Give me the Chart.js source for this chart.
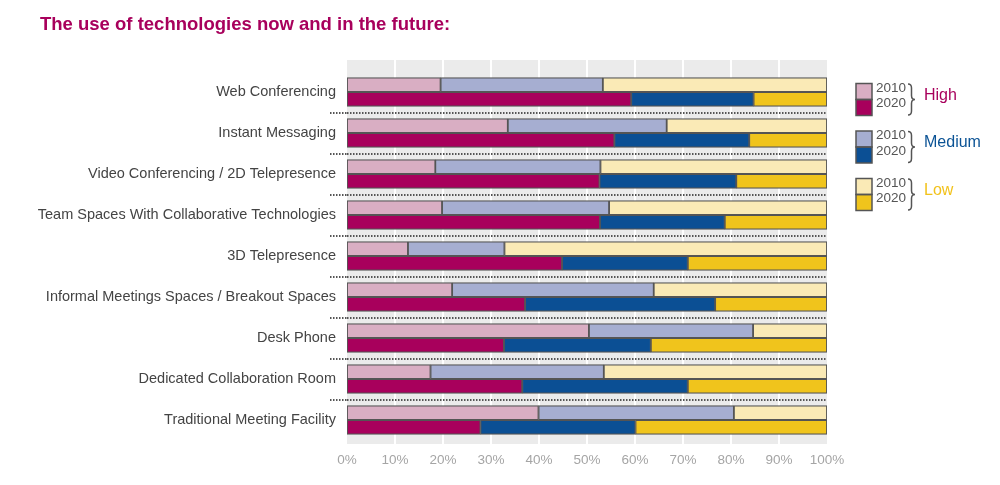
<!DOCTYPE html>
<html>
<head>
<meta charset="utf-8">
<script src="https://cdn.jsdelivr.net/npm/chart.js@4/dist/chart.umd.min.js"></script>
<style>
  body { margin: 0; background: #fff; }
  #wrap { width: 1000px; height: 485px; position: relative; }
  #title {
    position: absolute; left: 40px; top: 13px;
    font: bold 18.5px 'Liberation Sans', Arial, sans-serif;
    line-height: 22px; color: #a8005c; white-space: nowrap;
  }
</style>
</head>
<body>
<div id="wrap">
  <div id="title">The use of technologies now and in the future:</div>
  <canvas id="myChart"></canvas>
</div>
<script>
// data (percent of respondents)
const categories = [
  'Web Conferencing',
  'Instant Messaging',
  'Video Conferencing / 2D Telepresence',
  'Team Spaces With Collaborative Technologies',
  '3D Telepresence',
  'Informal Meetings Spaces / Breakout Spaces',
  'Desk Phone',
  'Dedicated Collaboration Room',
  'Traditional Meeting Facility'
]
const levels = ['High', 'Medium', 'Low']
const years = ['2010', '2020']

const high2010 = [19.5, 33.5, 18.4, 19.8, 12.7, 21.9, 50.4, 17.4, 39.9]
const medium2010 = [33.8, 33.1, 34.4, 34.8, 20.1, 42.0, 34.2, 36.1, 40.7]
const low2010 = [46.7, 33.4, 47.2, 45.4, 67.2, 36.1, 15.4, 46.5, 19.4]

const high2020 = [59.2, 55.7, 52.6, 52.7, 44.8, 37.1, 32.7, 36.5, 27.8]
const medium2020 = [25.5, 28.1, 28.5, 26.0, 26.2, 39.6, 30.6, 34.5, 32.3]
const low2020 = [15.3, 16.2, 18.9, 21.3, 29.0, 23.3, 36.7, 29.0, 39.9]

const xTicks = [0, 10, 20, 30, 40, 50, 60, 70, 80, 90, 100]

// styles
const lightColors = ['#d9aec3', '#a6aed1', '#faeab6']
const darkColors = ['#a8005c', '#0b4f94', '#f0c41c']
const labelColors = ['#a8005c', '#0b5395', '#f2c21b']
const edge = '#555'

Chart.defaults.font.family = "'Liberation Sans', Arial, sans-serif"

const values = {
  '2010': [high2010, medium2010, low2010],
  '2020': [high2020, medium2020, low2020]
}

const datasets = []
years.forEach((yr, yi) => {
  levels.forEach((lv, li) => {
    datasets.push({
      label: lv + ' ' + yr,
      stack: yr,
      data: values[yr][li],
      backgroundColor: yi === 0 ? lightColors[li] : darkColors[li],
      borderColor: edge,
      borderWidth: 1.25,
      borderSkipped: false,
      barThickness: 14.5
    })
  })
})

// grey panel with white vertical lines, a bit taller than the plot area
const backdrop = {
  id: 'backdrop',
  beforeDraw(chart) {
    const { ctx, chartArea: a, scales: { x } } = chart
    const top = a.top - 11.5
    const bottom = a.bottom + 3.5
    ctx.save()
    ctx.fillStyle = '#ebebeb'
    ctx.fillRect(a.left, top, a.right - a.left, bottom - top)
    ctx.strokeStyle = '#fff'
    ctx.lineWidth = 2
    xTicks.slice(1, -1).forEach(v => {
      const px = Math.round(x.getPixelForValue(v))
      ctx.beginPath()
      ctx.moveTo(px, top)
      ctx.lineTo(px, bottom)
      ctx.stroke()
    })
    ctx.restore()
  }
}

// legend on the right: two swatches, a brace and the level name
const sideLegend = {
  id: 'sideLegend',
  afterDraw(chart) {
    const ctx = chart.ctx
    ctx.save()
    levels.forEach((lv, i) => {
      const x0 = 856
      const y0 = 83.5 + i * 47.5
      ctx.fillStyle = lightColors[i]
      ctx.fillRect(x0, y0, 16, 16)
      ctx.fillStyle = darkColors[i]
      ctx.fillRect(x0, y0 + 16, 16, 16)
      ctx.strokeStyle = edge
      ctx.lineWidth = 1.5
      ctx.strokeRect(x0, y0, 16, 16)
      ctx.strokeRect(x0, y0 + 16, 16, 16)

      ctx.fillStyle = '#555'
      ctx.font = "13.5px 'Liberation Sans', Arial, sans-serif"
      ctx.textBaseline = 'middle'
      ctx.textAlign = 'left'
      ctx.fillText(years[0], 876, y0 + 4.5)
      ctx.fillText(years[1], 876, y0 + 20)

      // brace
      const bx = 908, t = y0 + 0.5, b = y0 + 31.5, m = (t + b) / 2
      ctx.beginPath()
      ctx.moveTo(bx, t)
      ctx.quadraticCurveTo(bx + 3.5, t, bx + 3.5, t + 4)
      ctx.lineTo(bx + 3.5, m - 4)
      ctx.quadraticCurveTo(bx + 3.5, m, bx + 7, m)
      ctx.quadraticCurveTo(bx + 3.5, m, bx + 3.5, m + 4)
      ctx.lineTo(bx + 3.5, b - 4)
      ctx.quadraticCurveTo(bx + 3.5, b, bx, b)
      ctx.strokeStyle = '#555'
      ctx.lineWidth = 1.5
      ctx.stroke()

      ctx.fillStyle = labelColors[i]
      ctx.font = "16px 'Liberation Sans', Arial, sans-serif"
      ctx.fillText(lv, 924, y0 + 12)
    })
    ctx.restore()
  }
}

const dotted = c => (c.type === 'tick' && c.index > 0) ? '#555' : 'rgba(0,0,0,0)'

const config = {
  type: 'bar',
  data: { labels: categories, datasets },
  options: {
    indexAxis: 'y',
    responsive: true,
    maintainAspectRatio: false,
    animation: false,
    layout: { padding: { left: 0, right: 173, top: 71.5, bottom: 18 } },
    plugins: {
      legend: { display: false },
      tooltip: { enabled: false }
    },
    scales: {
      x: {
        stacked: true,
        min: 0,
        max: 100,
        afterFit: s => { s.height = 26.5 },
        grid: { display: false },
        border: { display: false },
        ticks: {
          stepSize: 10,
          padding: 3.5,
          color: '#a5a5a5',
          font: { size: 13.5 },
          callback: v => v + '%'
        }
      },
      y: {
        stacked: true,
        afterFit: s => { s.width = 347 },
        border: { display: false, dash: [1.5, 1.5] },
        grid: {
          offset: true,
          color: dotted,
          tickColor: dotted,
          lineWidth: 2,
          tickWidth: 2,
          tickLength: 17,
          tickBorderDash: [1.5, 1.5]
        },
        ticks: {
          padding: -6,
          color: '#444',
          font: { size: 14.5 }
        }
      }
    }
  },
  plugins: [backdrop, sideLegend]
}

const myChart = new Chart(document.getElementById('myChart'), config)
</script>
</body>
</html>
